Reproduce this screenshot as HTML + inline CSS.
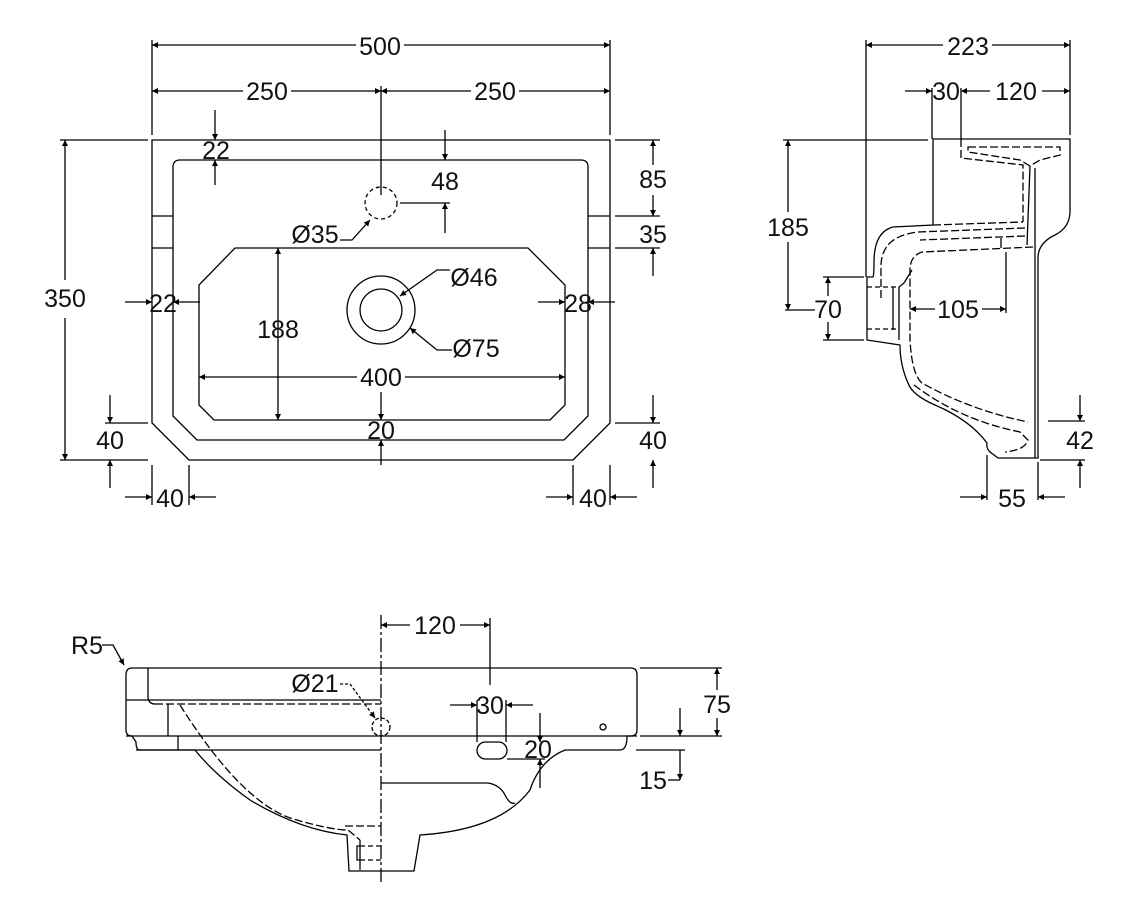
<!DOCTYPE html>
<html><head><meta charset="utf-8"><style>
html,body{margin:0;padding:0;background:#fff;}
svg{display:block;}
text{font-family:"Liberation Sans",sans-serif;font-size:25px;fill:#111;text-anchor:middle;}
</style></head><body>
<svg width="1133" height="902" viewBox="0 0 1133 902" xmlns="http://www.w3.org/2000/svg">
<defs>
<marker id="a" viewBox="0 0 10 10" refX="10" refY="5" markerWidth="12" markerHeight="6" markerUnits="userSpaceOnUse" orient="auto-start-reverse"><path d="M0,0 L10,5 L0,10 z" fill="#000"/></marker>
</defs>
<g fill="none" stroke="#000" stroke-width="1.3">
<!-- FRONT VIEW -->
<path d="M152,140 L610,140 L610,423 L573,460 L189,460 L152,423 Z"/>
<path d="M180,160 L581,160 Q588,160 588,167 L588,416 L564,440 L197,440 L173,416 L173,167 Q173,160 180,160 Z"/>
<path d="M235,248 L528,248 L565,285 L565,405 L550,420 L214,420 L199,405 L199,285 Z"/>
<line x1="152" y1="216" x2="173" y2="216"/><line x1="152" y1="248" x2="173" y2="248"/>
<line x1="588" y1="216" x2="610" y2="216"/><line x1="588" y1="248" x2="610" y2="248"/>
<circle cx="381" cy="203" r="16" stroke-dasharray="4,3"/>
<circle cx="381" cy="310" r="34"/><circle cx="381" cy="310" r="21"/>
<line x1="152" y1="40" x2="152" y2="135"/><line x1="610" y1="40" x2="610" y2="135"/>
<line x1="152" y1="45" x2="356" y2="45" marker-start="url(#a)"/><line x1="404" y1="45" x2="610" y2="45" marker-end="url(#a)"/>
<line x1="381" y1="86" x2="381" y2="195"/>
<line x1="152" y1="91" x2="243" y2="91" marker-start="url(#a)"/><line x1="291" y1="91" x2="381" y2="91" marker-end="url(#a)"/>
<line x1="381" y1="91" x2="471" y2="91" marker-start="url(#a)"/><line x1="519" y1="91" x2="610" y2="91" marker-end="url(#a)"/>
<line x1="215" y1="110" x2="215" y2="140" marker-end="url(#a)"/><line x1="215" y1="185" x2="215" y2="160" marker-end="url(#a)"/>
<line x1="445" y1="130" x2="445" y2="160" marker-end="url(#a)"/><line x1="445" y1="233" x2="445" y2="203" marker-end="url(#a)"/>
<line x1="400" y1="203" x2="450" y2="203"/>
<path d="M340,240 L352,240 L370,220" marker-end="url(#a)"/>
<line x1="60" y1="140" x2="148" y2="140"/><line x1="60" y1="460" x2="148" y2="460"/>
<line x1="65" y1="140" x2="65" y2="280" marker-start="url(#a)"/><line x1="65" y1="318" x2="65" y2="460" marker-end="url(#a)"/>
<line x1="615" y1="140" x2="660" y2="140"/><line x1="615" y1="216" x2="660" y2="216"/><line x1="615" y1="248" x2="660" y2="248"/>
<line x1="653" y1="140" x2="653" y2="165" marker-start="url(#a)"/><line x1="653" y1="195" x2="653" y2="216" marker-end="url(#a)"/>
<line x1="653" y1="276" x2="653" y2="248" marker-end="url(#a)"/>
<line x1="125" y1="302" x2="152" y2="302" marker-end="url(#a)"/><line x1="200" y1="302" x2="173" y2="302" marker-end="url(#a)"/>
<line x1="538" y1="302" x2="565" y2="302" marker-end="url(#a)"/><line x1="615" y1="302" x2="588" y2="302" marker-end="url(#a)"/>
<line x1="278" y1="248" x2="278" y2="420" marker-start="url(#a)" marker-end="url(#a)"/>
<line x1="199" y1="377" x2="357" y2="377" marker-start="url(#a)"/><line x1="405" y1="377" x2="565" y2="377" marker-end="url(#a)"/>
<line x1="381" y1="392" x2="381" y2="420" marker-end="url(#a)"/><line x1="381" y1="465" x2="381" y2="440" marker-end="url(#a)"/>
<path d="M450,270 L437,270 L400,296" marker-end="url(#a)"/>
<path d="M452,350 L437,350 L410,328" marker-end="url(#a)"/>
<line x1="105" y1="423" x2="148" y2="423"/><line x1="110" y1="395" x2="110" y2="423" marker-end="url(#a)"/><line x1="110" y1="488" x2="110" y2="460" marker-end="url(#a)"/>
<line x1="615" y1="423" x2="660" y2="423"/><line x1="653" y1="395" x2="653" y2="423" marker-end="url(#a)"/><line x1="653" y1="488" x2="653" y2="460" marker-end="url(#a)"/>
<line x1="152" y1="465" x2="152" y2="505"/><line x1="189" y1="465" x2="189" y2="505"/>
<line x1="125" y1="497" x2="152" y2="497" marker-end="url(#a)"/><line x1="216" y1="497" x2="189" y2="497" marker-end="url(#a)"/>
<line x1="573" y1="465" x2="573" y2="505"/><line x1="610" y1="465" x2="610" y2="505"/>
<line x1="546" y1="497" x2="573" y2="497" marker-end="url(#a)"/><line x1="637" y1="497" x2="610" y2="497" marker-end="url(#a)"/>

<!-- SIDE VIEW -->
<path d="M933,139 L1070,139 L1070,213 Q1069,228 1055,235 Q1038,243 1038,258 L1038,458 L998,458 L990,452 Q986,448 987,443 Q970,420 935,405 Q912,395 908,383 Q900,365 900,345 L867,340 L867,277 L873,277 Q874,275 874,262 Q874,232 893,227 L933,225 Z"/>
<path d="M961,139 L961,158 L1023,165 L1023,222" stroke-dasharray="8,3"/>
<path d="M933,225 L1023,222" stroke-dasharray="8,3"/>
<path d="M968,147 L1060,147 L1060,155 L1040,160 L1030,166 L1020,160 L968,152 Z" stroke-dasharray="8,3"/>
<line x1="1035" y1="168" x2="1035" y2="458"/>
<path d="M1030,166 L1027,245"/>
<path d="M1033,247 L922,252 Q910,256 910,270 L910,340 Q912,375 922,383 Q970,410 1028,422" stroke-dasharray="8,3"/>
<path d="M1025,228 L918,232 Q882,236 881,265 L881,300 M1025,236 L920,240" stroke-dasharray="8,3"/>
<path d="M899,340 L899,287 L904,283 L912,270" />
<line x1="867" y1="287" x2="899" y2="287" stroke-dasharray="5,3"/><line x1="867" y1="329" x2="899" y2="329" stroke-dasharray="5,3"/>
<line x1="893" y1="287" x2="893" y2="330"/>
<path d="M914,385 Q960,420 1020,432 L1028,440 Q1025,450 1005,452" stroke-dasharray="8,3"/>
<line x1="1001" y1="238" x2="1001" y2="248"/>
<line x1="866" y1="40" x2="866" y2="277"/><line x1="1070" y1="40" x2="1070" y2="135"/>
<line x1="866" y1="45" x2="943" y2="45" marker-start="url(#a)"/><line x1="992" y1="45" x2="1070" y2="45" marker-end="url(#a)"/>
<line x1="932" y1="88" x2="932" y2="139"/><line x1="961" y1="88" x2="961" y2="139"/>
<line x1="905" y1="91" x2="932" y2="91" marker-end="url(#a)"/><line x1="961" y1="91" x2="990" y2="91" marker-start="url(#a)"/>
<line x1="1042" y1="91" x2="1070" y2="91" marker-end="url(#a)"/>
<line x1="783" y1="140" x2="928" y2="140"/>
<line x1="788" y1="140" x2="788" y2="212" marker-start="url(#a)"/><line x1="788" y1="242" x2="788" y2="310" marker-end="url(#a)"/>
<line x1="785" y1="310" x2="815" y2="310"/>
<line x1="823" y1="277" x2="864" y2="277"/><line x1="823" y1="340" x2="864" y2="340"/>
<line x1="828" y1="277" x2="828" y2="296" marker-start="url(#a)"/><line x1="828" y1="322" x2="828" y2="340" marker-end="url(#a)"/>
<line x1="1006" y1="252" x2="1006" y2="313"/>
<line x1="910" y1="309" x2="935" y2="309" marker-start="url(#a)"/><line x1="982" y1="309" x2="1006" y2="309" marker-end="url(#a)"/>
<line x1="1048" y1="421" x2="1085" y2="421"/><line x1="1040" y1="460" x2="1085" y2="460"/>
<line x1="1080" y1="395" x2="1080" y2="421" marker-end="url(#a)"/><line x1="1080" y1="488" x2="1080" y2="460" marker-end="url(#a)"/>
<line x1="987" y1="455" x2="987" y2="500"/><line x1="1038" y1="462" x2="1038" y2="500"/>
<line x1="960" y1="497" x2="987" y2="497" marker-end="url(#a)"/><line x1="1065" y1="497" x2="1038" y2="497" marker-end="url(#a)"/>

<!-- BOTTOM VIEW -->
<path d="M132,668 L631,668 Q637,668 637,675 L637,730 Q637,736 631,736 L627,736 Q627,750 620,750 L565,750 Q540,760 530,790 Q500,830 420,835 L414,871 L349,871 L347,835 Q300,830 250,800 Q215,775 195,750 L140,750 Q136,750 136,742 L132,736 Q126,736 126,730 L126,675 Q126,668 132,668 Z"/>
<line x1="126" y1="700" x2="381" y2="700"/><line x1="126" y1="736" x2="637" y2="736"/>
<line x1="136" y1="750" x2="381" y2="750"/>
<path d="M148,668 L148,698 Q149,704 155,704"/>
<line x1="155" y1="704" x2="381" y2="704" stroke-dasharray="8,3"/>
<line x1="168" y1="704" x2="168" y2="736"/><line x1="178" y1="736" x2="178" y2="750"/>
<path d="M180,705 Q240,800 290,818 Q330,830 348,830 L360,840" stroke-dasharray="8,3"/>
<line x1="345" y1="826" x2="381" y2="826" stroke-dasharray="8,3"/>
<line x1="360" y1="840" x2="360" y2="870"/>
<path d="M360,846 L357,846 L357,860 L360,860"/>
<line x1="360" y1="846" x2="381" y2="846" stroke-dasharray="5,3"/><line x1="360" y1="860" x2="381" y2="860" stroke-dasharray="5,3"/>
<line x1="381" y1="615" x2="381" y2="885" stroke-dasharray="14,3,3,3"/>
<path d="M381,783 L488,783 Q500,785 505,795 Q510,805 515,803"/>
<circle cx="381" cy="727" r="9" stroke-dasharray="4,2"/>
<rect x="477" y="742" width="30" height="17" rx="8.5"/>
<circle cx="603" cy="727" r="3"/>
<line x1="490" y1="618" x2="490" y2="685"/>
<line x1="381" y1="625" x2="410" y2="625" marker-start="url(#a)"/><line x1="460" y1="625" x2="490" y2="625" marker-end="url(#a)"/>
<line x1="477" y1="700" x2="477" y2="742"/><line x1="506" y1="700" x2="506" y2="742"/>
<line x1="450" y1="705" x2="477" y2="705" marker-end="url(#a)"/><line x1="533" y1="705" x2="506" y2="705" marker-end="url(#a)"/>
<line x1="507" y1="759" x2="545" y2="759"/>
<line x1="540" y1="713" x2="540" y2="742" marker-end="url(#a)"/><line x1="540" y1="788" x2="540" y2="759" marker-end="url(#a)"/>
<line x1="640" y1="668" x2="722" y2="668"/><line x1="640" y1="736" x2="722" y2="736"/>
<line x1="717" y1="668" x2="717" y2="690" marker-start="url(#a)"/><line x1="717" y1="718" x2="717" y2="736" marker-end="url(#a)"/>
<line x1="636" y1="750" x2="685" y2="750"/>
<line x1="680" y1="708" x2="680" y2="736" marker-end="url(#a)"/><line x1="680" y1="780" x2="680" y2="750" marker-start="url(#a)"/>
<line x1="668" y1="780" x2="680" y2="780"/>
<path d="M102,645 L113,645 L124,665" marker-end="url(#a)"/>
<path d="M340,684 L350,684 L375,718" stroke-dasharray="3,2" marker-end="url(#a)"/>
</g>
<g>
<text x="380" y="55">500</text>
<text x="267" y="100">250</text><text x="495" y="100">250</text>
<text x="216" y="159">22</text><text x="445" y="190">48</text>
<text x="315" y="243">Ø35</text>
<text x="653" y="188">85</text><text x="653" y="243">35</text>
<text x="65" y="307">350</text>
<text x="163" y="312">22</text><text x="578" y="312">28</text>
<text x="474" y="286">Ø46</text><text x="476" y="357">Ø75</text>
<text x="278" y="338">188</text><text x="381" y="386">400</text>
<text x="381" y="439">20</text>
<text x="110" y="449">40</text><text x="653" y="449">40</text>
<text x="170" y="507">40</text><text x="593" y="507">40</text>
<text x="968" y="55">223</text><text x="946" y="100">30</text><text x="1016" y="100">120</text>
<text x="788" y="236">185</text><text x="828" y="318">70</text><text x="958" y="318">105</text>
<text x="1080" y="449">42</text><text x="1012" y="507">55</text>
<text x="87" y="654">R5</text><text x="435" y="634">120</text>
<text x="315" y="692">Ø21</text><text x="490" y="714">30</text><text x="538" y="758">20</text>
<text x="717" y="713">75</text><text x="653" y="789">15</text>
</g>
</svg>
</body></html>
